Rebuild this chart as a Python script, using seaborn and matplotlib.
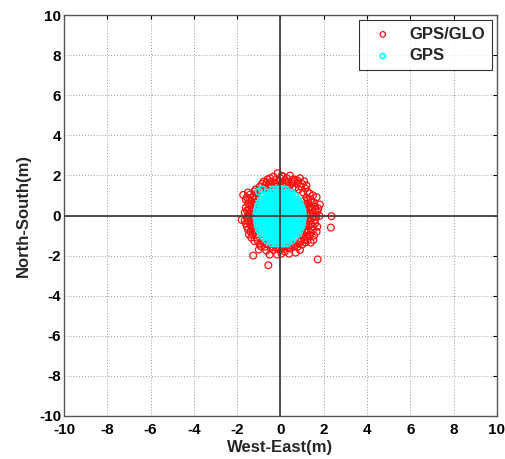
import matplotlib
matplotlib.use("Agg")
import matplotlib.pyplot as plt
import seaborn as sns
import pandas as pd

# ---- data (metres) ----
glo_x = [-0.79, -0.60, -0.48, -0.33, -0.13, 0.05, 0.13, 0.30, 0.44, 0.58, 0.67, 0.90, 1.10, 0.80, 0.55,
         0.25, -0.05, -0.25, -0.50, -0.70, -0.95, 0.95, 1.15, 1.25, -0.40, 0.10, 0.40, 0.70, -0.15, -1.15,
         -1.72, -1.55, -1.40, -1.25, -1.35, -1.50, -1.30, -1.60, -1.45, -1.25, -1.65, -1.40, -1.20, -1.79, -1.55,
         -1.35, -1.20, -1.60, -1.40, -1.25, -1.50, -1.30, -1.45, -1.20, -1.35, -1.21, -1.10, -1.10, -1.20,
         -1.26, -0.95, -0.80, -0.70, -0.55, -0.56, -0.33, -0.40, -0.20, -0.05, 0.10, 0.20, 0.35, 0.50, 0.65,
         0.90, 0.75, 0.95, 1.10, -1.00, -0.15, 0.40, 1.72,
         1.67, 1.50, 1.35, 1.20, 1.40, 1.55, 1.25, 1.45, 1.60, 1.30, 1.15, 1.50, 1.35, 1.20, 2.36, 1.80,
         1.65, 1.45, 1.25, 2.33, 1.60, 1.40, 1.20, 1.67, 1.50, 1.30, 1.15, 1.52, 1.35, 1.20, 1.05, 1.40, 1.82,
         0.00, 0.45, -0.50, 0.30, -0.30, 0.60, -0.70, 0.10,
         -0.85, -0.65, -0.42, -0.20, 0.00, 0.20, 0.38, 0.60, 0.78, 1.00, -0.55, -0.28, 0.02, 0.30, 0.55,
         0.85, 1.05, -0.95, -0.75, 1.20,
         -1.15, -1.30, -1.45, -1.18, -1.40, -1.15, -1.55, -1.30, -1.50, -1.25, -1.65, -1.45, -1.22, -1.35,
         -1.15, -1.55, -1.38, -1.15, -1.28, -1.05, -1.50, -1.60,
         -0.90, -0.85, -0.62, -0.45, -0.30, -0.10, 0.05, 0.25, 0.45, 0.60, 0.80, 0.85, 1.00, 1.15, 0.30,
         -0.65, -0.50, 0.05, 0.70,
         1.10, 1.28, 1.45, 1.15, 1.35, 1.60, 1.15, 1.42, 1.70, 1.10, 1.50, 1.60, 1.35, 1.12, 1.50, 1.28,
         1.10, 1.40, 1.20, 1.55, 1.25, 1.08, 1.70, 1.75]
glo_y = [1.69, 1.80, 1.86, 1.94, 2.11, 1.98, 1.94, 1.85, 1.99, 1.80, 1.78, 1.86, 1.70, 1.62, 1.60,
         1.62, 1.70, 1.58, 1.55, 1.50, 1.45, 1.45, 1.35, 1.20, 1.45, 1.50, 1.48, 1.40, 1.45, 1.30,
         1.03, 0.90, 1.05, 0.95, 0.75, 0.60, 0.55, 0.40, 0.30, 0.35, 0.15, 0.10, 0.15, -0.22, -0.10,
         -0.15, -0.05, -0.40, -0.45, -0.35, -0.70, -0.65, -0.95, -0.85, -1.10, -1.27, -1.10, 1.10, 1.20,
         -2.00, -1.45, -1.35, -1.55, -1.45, -2.48, -1.72, -1.55, -1.60, -1.70, -1.55, -1.80, -1.60, -1.50, -1.55,
         -1.72, -1.40, -1.30, -1.20, -1.70, -1.95, -1.90, -2.19,
         0.91, 1.00, 1.10, 0.90, 0.80, 0.65, 0.60, 0.45, 0.30, 0.30, 0.40, 0.15, 0.05, 0.10, -0.03, -0.02,
         -0.05, -0.15, -0.20, -0.60, -0.40, -0.45, -0.40, -0.81, -0.70, -0.75, -0.70, -1.22, -1.00, -1.05, -0.95, -1.35, 0.55,
         0.00, 0.50, -0.40, -0.60, 0.70, -0.20, 0.20, 0.90,
         1.58, 1.65, 1.70, 1.78, 1.85, 1.75, 1.68, 1.70, 1.75, 1.58, 1.38, 1.35, 1.40, 1.36, 1.38,
         1.30, 1.15, 1.25, 1.35, 1.50,
         0.85, 0.88, 0.75, 0.65, 0.50, 0.48, 0.25, 0.20, 0.00, 0.05, -0.25, -0.30, -0.20, -0.55,
         -0.55, -0.55, -0.80, -0.75, -0.95, -1.25, 1.15, 0.80,
         -1.55, -1.25, -1.40, -1.62, -1.45, -1.55, -1.68, -1.52, -1.65, -1.42, -1.55, -1.30, -1.45, -1.35, -1.45,
         -1.75, -1.95, -1.90, -1.85,
         0.75, 0.80, 0.65, 0.55, 0.45, 0.45, 0.25, 0.28, 0.20, 0.05, -0.05, -0.20, -0.30, -0.25, -0.55, -0.55,
         -0.55, -0.85, -0.85, -1.00, -1.25, -1.10, -0.55, 0.35]

gps_x = [-0.33, -0.18, -0.04, 0.11, 0.24,
         -0.60, -0.45, -0.31, -0.16, -0.02, 0.13, 0.27, 0.41, 0.52,
         -0.77, -0.62, -0.48, -0.33, -0.19, -0.05, 0.09, 0.24, 0.38, 0.53, 0.68,
         -0.89, -0.74, -0.60, -0.45, -0.31, -0.17, -0.02, 0.12, 0.27, 0.41, 0.55, 0.69, 0.81,
         -0.97, -0.82, -0.68, -0.53, -0.39, -0.24, -0.10, 0.05, 0.19, 0.34, 0.48, 0.62, 0.76, 0.89,
         -1.03, -0.88, -0.74, -0.59, -0.45, -0.30, -0.16, -0.01, 0.13, 0.28, 0.42, 0.56, 0.70, 0.84, 0.95,
         -1.08, -0.93, -0.79, -0.64, -0.50, -0.35, -0.21, -0.06, 0.08, 0.23, 0.37, 0.51, 0.66, 0.80, 0.93, 1.01,
         -1.10, -0.95, -0.81, -0.66, -0.52, -0.37, -0.23, -0.08, 0.06, 0.21, 0.35, 0.50, 0.64, 0.78, 0.92, 1.03,
         -1.12, -0.97, -0.83, -0.68, -0.54, -0.39, -0.25, -0.10, 0.04, 0.19, 0.33, 0.48, 0.62, 0.77, 0.91, 1.04,
         -1.09, -0.96, -0.80, -0.67, -0.51, -0.38, -0.22, -0.09, 0.07, 0.20, 0.36, 0.49, 0.65, 0.77, 0.93, 1.02,
         -1.07, -0.94, -0.78, -0.65, -0.49, -0.36, -0.20, -0.07, 0.09, 0.22, 0.38, 0.51, 0.67, 0.79, 0.94, 1.00,
         -1.04, -0.89, -0.75, -0.60, -0.46, -0.31, -0.17, -0.02, 0.12, 0.27, 0.41, 0.55, 0.69, 0.83, 0.96,
         -0.98, -0.83, -0.69, -0.54, -0.40, -0.25, -0.11, 0.04, 0.18, 0.33, 0.47, 0.61, 0.75, 0.89,
         -0.90, -0.76, -0.61, -0.47, -0.32, -0.18, -0.03, 0.11, 0.26, 0.40, 0.54, 0.68, 0.82,
         -0.79, -0.64, -0.50, -0.35, -0.21, -0.06, 0.08, 0.23, 0.37, 0.52, 0.67,
         -0.63, -0.48, -0.34, -0.19, -0.05, 0.10, 0.24, 0.39, 0.53,
         -0.40, -0.25, -0.10, 0.05, 0.20, 0.32,
         -1.00, -0.85]
gps_y = [1.30] * 5 + [1.14] * 9 + [0.97] * 11 + [0.80] * 13 + [0.63] * 14 + [0.46] * 15 + \
        [0.29] * 16 + [0.12] * 16 + [-0.05] * 16 + [-0.22] * 16 + [-0.39] * 16 + [-0.56] * 15 + \
        [-0.73] * 14 + [-0.90] * 13 + [-1.07] * 11 + [-1.24] * 9 + [-1.39] * 6 + [1.20, 1.30]

series_names = ["GPS/GLO", "GPS"]
x_ticks = [-10, -8, -6, -4, -2, 0, 2, 4, 6, 8, 10]
y_ticks = [-10, -8, -6, -4, -2, 0, 2, 4, 6, 8, 10]

df_glo = pd.DataFrame({"x": glo_x, "y": glo_y})
df_gps = pd.DataFrame({"x": gps_x, "y": gps_y})

sns.set_style("white")
plt.rcParams["font.family"] = ["Liberation Sans", "DejaVu Sans"]

fig = plt.figure(figsize=(5.06, 4.59), dpi=100)
ax = fig.add_axes([0.1265, 0.0937, 0.8555, 0.8735])

sns.scatterplot(data=df_glo, x="x", y="y", ax=ax, marker="o", s=24,
                facecolor="none", edgecolor="#ff1010", linewidth=0.9,
                label=series_names[0], zorder=3)
sns.scatterplot(data=df_gps, x="x", y="y", ax=ax, marker="o", s=22,
                facecolor="none", edgecolor="#00ffff", linewidth=1.1,
                label=series_names[1], zorder=4)

ax.axhline(0, color="#404040", lw=1.3, zorder=5)
ax.axvline(0, color="#404040", lw=1.3, zorder=5)

ax.set_xlim(-10, 10)
ax.set_ylim(-10, 10)
ax.set_xticks(x_ticks)
ax.set_yticks(y_ticks)
ax.set_xticklabels([str(t) for t in x_ticks], fontweight="bold", fontsize=11)
ax.set_yticklabels([str(t) for t in y_ticks], fontweight="bold", fontsize=11)
ax.grid(True, linestyle=(0, (1, 2)), color="#9a9a9a", lw=0.7, zorder=0)
ax.set_axisbelow(True)
ax.tick_params(direction="in", length=3, top=True, right=True, pad=2, colors="black")
ax.tick_params(axis="x", pad=5)
for sp in ax.spines.values():
    sp.set_color("#555555")
    sp.set_linewidth(1.0)

ax.set_xlabel("West-East(m)", fontweight="bold", fontsize=12, labelpad=2)
ax.set_ylabel("North-South(m)", fontweight="bold", fontsize=12, labelpad=6)

leg = ax.legend(loc="upper right", fontsize=12, frameon=True, fancybox=False,
                edgecolor="black", borderaxespad=0.3, handletextpad=0.6,
                markerscale=0.8, labelspacing=0.4, borderpad=0.4)
for t in leg.get_texts():
    t.set_fontweight("bold")
leg.get_frame().set_linewidth(0.8)

fig.savefig("out.png", dpi=100)
